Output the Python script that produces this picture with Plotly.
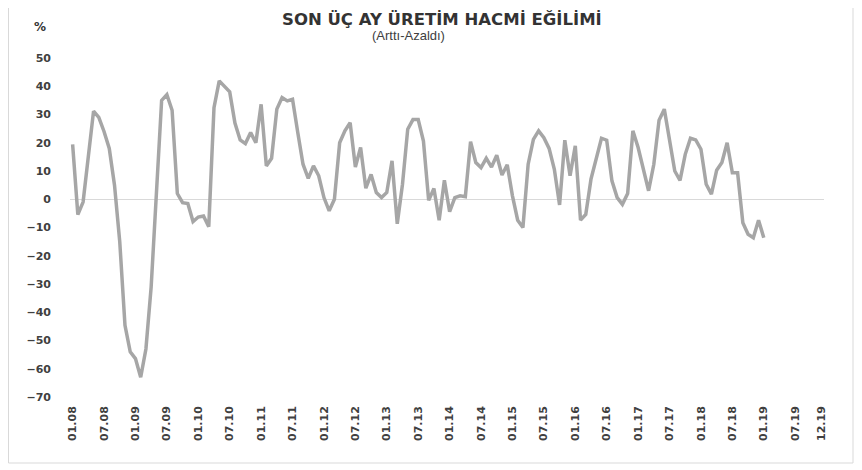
import plotly.graph_objects as go

# monthly values, % (Arttı-Azaldı), 01.08 .. 01.19
v2008 = [19.4, -5.4, -1.0, 15.0, 31.2, 29.0, 24.0, 18.0, 5.0, -15.0, -44.6, -54.0]
v2009 = [-56.4, -63.0, -53.0, -31.0, 0.0, 35.0, 37.0, 31.5, 2.0, -1.2, -1.5, -7.9]
v2010 = [-6.3, -5.9, -9.7, 32.4, 41.9, 40.0, 38.0, 27.0, 21.0, 19.7, 23.6, 20.0]
v2011 = [33.6, 11.8, 14.5, 31.9, 36.0, 34.8, 35.4, 23.6, 12.4, 7.4, 11.8, 8.3]
v2012 = [0.6, -4.1, 0.0, 20.0, 24.2, 27.1, 11.4, 18.3, 3.9, 8.8, 2.4, 0.6]
v2013 = [2.4, 13.6, -8.7, 5.3, 24.8, 28.2, 28.2, 20.6, -0.4, 3.8, -7.4, 6.7]
v2014 = [-4.4, 0.6, 1.2, 0.9, 20.4, 13.0, 11.2, 14.5, 11.4, 15.6, 8.6, 12.2]
v2015 = [1.2, -7.4, -10.0, 12.4, 21.2, 24.2, 21.8, 18.0, 10.6, -2.0, 20.9, 8.3]
v2016 = [18.9, -7.4, -5.4, 7.1, 14.7, 21.6, 20.9, 6.5, 0.6, -1.8, 2.0, 24.2]
v2017 = [18.3, 10.0, 3.0, 12.4, 28.0, 31.9, 21.2, 10.0, 6.7, 15.9, 21.6, 21.0]
v2018 = [17.7, 5.3, 1.8, 10.3, 13.0, 20.0, 9.4, 9.4, -8.3, -12.4, -13.6, -7.4]
v2019 = [-13.6]

values = v2008 + v2009 + v2010 + v2011 + v2012 + v2013 + v2014 + v2015 + v2016 + v2017 + v2018 + v2019

# month labels for the whole axis, 01.08 .. 12.19
months = [f"{m:02d}.{y:02d}" for y in range(8, 20) for m in range(1, 13)]
tick_idx = list(range(0, len(months), 6)) + [len(months) - 1]
tick_lab = [months[i] for i in tick_idx]
y_ticks = list(range(-70, 51, 10))

# page body has an 8px margin, so the figure is laid out in page pixels minus 8
OFF = 8
W, H = 862 - OFF, 470 - OFF
L, R, T, B = 70 - OFF, 862 - 824, 58 - OFF, 470 - 397
PW, PH = W - L - R, H - T - B


def px(x):
    return (x - OFF - L) / PW


def py(y):
    return (H - B - (y - OFF)) / PH


fig = go.Figure()
fig.add_trace(go.Scatter(
    x=list(range(len(values))), y=values,
    mode="lines",
    line=dict(color="#A6A6A6", width=3.5),
    hoverinfo="skip",
    showlegend=False,
))

fig.update_layout(
    width=W, height=H,
    margin=dict(l=L, r=R, t=T, b=B, autoexpand=False),
    paper_bgcolor="white", plot_bgcolor="white",
    font=dict(family="DejaVu Sans, Verdana, sans-serif", color="#404040"),
    xaxis=dict(
        range=[-0.5, len(months) - 0.5],
        tickvals=tick_idx, ticktext=tick_lab,
        tickangle=-90,
        tickfont=dict(size=11, color="#404040", weight="bold"),
        showgrid=False, zeroline=False, showline=False,
        ticks="", ticklabelstandoff=6, automargin=False,
    ),
    yaxis=dict(
        range=[-70, 50],
        tickvals=y_ticks,
        tickfont=dict(size=11, color="#404040", weight="bold"),
        showgrid=False, zeroline=True, zerolinecolor="#D9D9D9", zerolinewidth=1,
        showline=False, ticks="", ticklabelstandoff=18, automargin=False,
    ),
    annotations=[
        dict(text="<b>SON ÜÇ AY ÜRETİM HACMİ EĞİLİMİ</b>", xref="paper", yref="paper",
             x=px(442), y=py(8.5), showarrow=False, xanchor="center", yanchor="top",
             borderpad=0,
             font=dict(size=16.5, color="#333333", family="DejaVu Sans, Verdana, sans-serif")),
        dict(text="(Arttı-Azaldı)", xref="paper", yref="paper",
             x=px(408), y=py(35), showarrow=False, xanchor="center", yanchor="middle",
             borderpad=0,
             font=dict(size=13, color="#404040", family="Liberation Sans, Arial, sans-serif")),
        dict(text="<b>%</b>", xref="paper", yref="paper",
             x=px(40), y=py(27), showarrow=False, xanchor="center", yanchor="middle",
             font=dict(size=12, color="#333333")),
    ],
    shapes=[
        dict(type="rect", xref="paper", yref="paper",
             x0=px(8.5), x1=px(853), y0=py(463), y1=py(-10),
             line=dict(color="#D9D9D9", width=1), fillcolor="rgba(0,0,0,0)", layer="below"),
    ],
)

fig.write_html("out.html")
